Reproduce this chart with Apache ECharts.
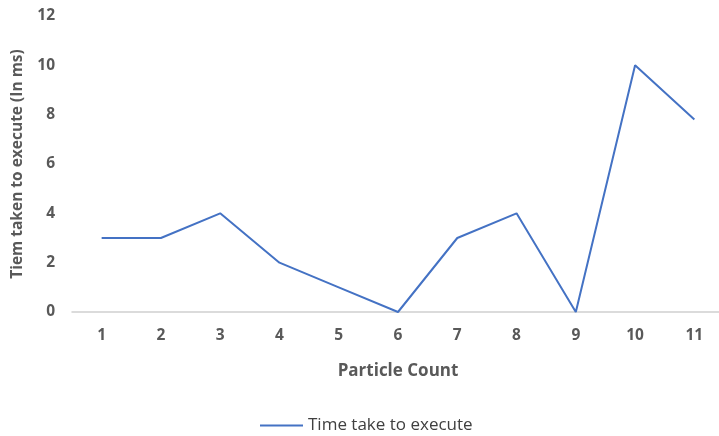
<!DOCTYPE html>
<html><head><meta charset="utf-8">
<script src="https://cdn.jsdelivr.net/npm/echarts@6/dist/echarts.min.js"></script>
<style>html,body{margin:0;padding:0;background:#fff}#c{width:719px;height:436px}</style>
</head><body><div id="c"></div>
<script>
const categories = ['1','2','3','4','5','6','7','8','9','10','11'];
const timeValues = [3, 3, 4, 2, 1, 0, 3, 4, 0, 10, 7.8];
const seriesName = 'Time take to execute';
const xName = 'Particle Count';
const yName = 'Tiem taken to execute (In ms)';

const chart = echarts.init(document.getElementById('c'));
const txt = '#595959';
const font = 'Open Sans';
chart.setOption({
  animation: false,
  grid: {left: 72, width: 652, top: 16, height: 296, containLabel: false, outerBoundsMode: 'none'},
  legend: {
    data: [{name: seriesName, icon: 'rect'}],
    top: 412, left: 255,
    itemWidth: 43, itemHeight: 2, itemGap: 4,
    textStyle: {color: '#404040', fontSize: 17, fontFamily: font}
  },
  xAxis: {
    type: 'category', data: categories, boundaryGap: true,
    name: xName, nameLocation: 'middle', nameGap: 51,
    nameTextStyle: {color: txt, fontSize: 17, fontWeight: 'bold', fontFamily: font},
    axisLine: {lineStyle: {color: '#d0d0d0', width: 1.5}},
    axisTick: {show: false},
    axisLabel: {color: txt, fontSize: 15.5, fontWeight: 'bold', fontFamily: font, margin: 16}
  },
  yAxis: {
    type: 'value', min: 0, max: 12, interval: 2,
    name: yName, nameLocation: 'middle', nameGap: 46,
    nameTextStyle: {color: txt, fontSize: 15.5, fontWeight: 'bold', fontFamily: font},
    axisLine: {show: false}, axisTick: {show: false},
    splitLine: {show: false},
    axisLabel: {color: txt, fontSize: 15.5, fontWeight: 'bold', fontFamily: font, margin: 17}
  },
  series: [{
    name: seriesName, type: 'line', data: timeValues,
    showSymbol: false, symbol: 'none',
    lineStyle: {color: '#4472C4', width: 2},
    itemStyle: {color: '#4472C4'}
  }]
});
</script></body></html>
